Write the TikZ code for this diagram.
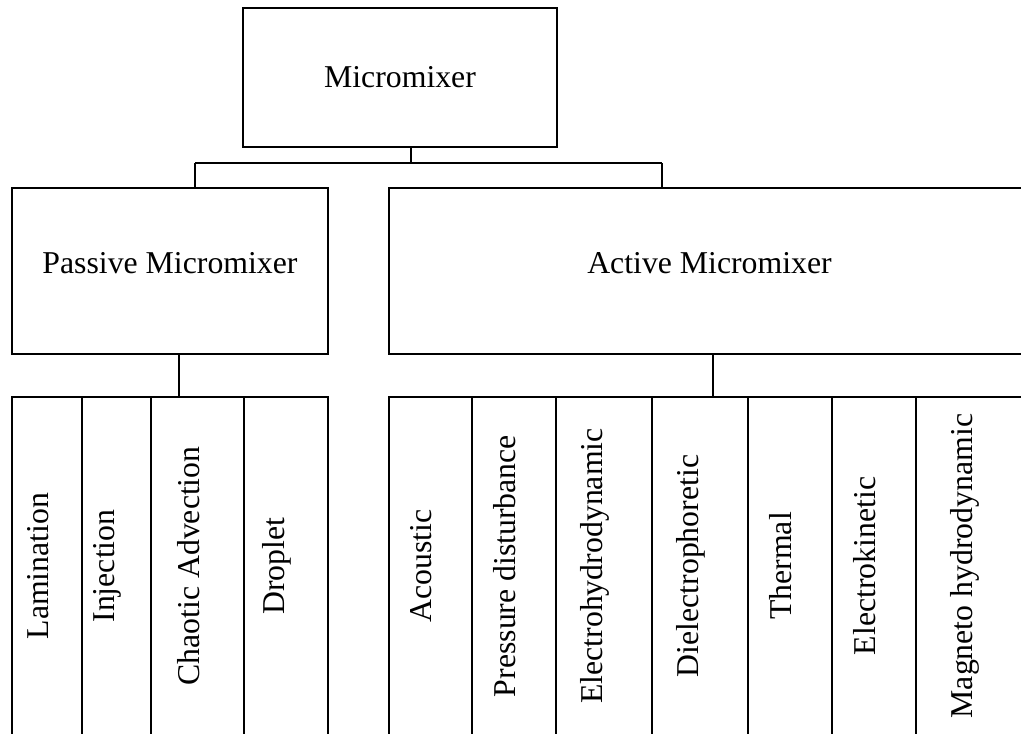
\documentclass[tikz,border=0pt]{standalone}
\usepackage{fontspec}
\setmainfont{Liberation Serif}
\tikzset{
  box/.style={draw=black, line width=1.4pt, font=\fontsize{22.6}{27}\selectfont},
  mid/.style={box, text depth=0.4cm, minimum height=4.15cm},
  cell/.style={draw=black, line width=1.4pt, minimum height=8.45cm},
  vlab/.style={rotate=90, font=\fontsize{22.6}{27}\selectfont},
  conn/.style={draw=black, line width=1.1pt},
}
\begin{document}
\begin{tikzpicture}[x=0.025cm, y=-0.025cm]
  \useasboundingbox (0,0) rectangle (1021,733);
  \fill[white] (0,0) rectangle (1021,733);
  \clip (0,0) rectangle (1021,733);

  \node[box, minimum width=7.85cm, minimum height=3.475cm] (mm) at (400,77.5) {Micromixer};
  \node[mid, minimum width=7.9cm] (pas) at (170,271) {Passive Micromixer};
  \node[mid, minimum width=16.025cm] (act) at (709.5,271) {Active Micromixer};

  \node[cell, minimum width=1.75cm] (lam) at (47,566) {};
  \node[cell, minimum width=1.725cm] (inj) at (116.5,566) {};
  \node[cell, minimum width=2.325cm] (cha) at (197.5,566) {};
  \node[cell, minimum width=2.1cm] (dro) at (286,566) {};
  \node[cell, minimum width=2.075cm] (aco) at (430.5,566) {};
  \node[cell, minimum width=2.1cm] (pre) at (514,566) {};
  \node[cell, minimum width=2.4cm] (ehd) at (604,566) {};
  \node[cell, minimum width=2.4cm] (dep) at (700,566) {};
  \node[cell, minimum width=2.1cm] (the) at (790,566) {};
  \node[cell, minimum width=2.1cm] (eki) at (874,566) {};
  \node[cell, minimum width=2.9cm] (mhd) at (974,566) {};

  \node[vlab] (lamt) at ([xshift=-0.225cm]lam.center) {Lamination};
  \node[vlab] (injt) at ([xshift=-0.225cm]inj.center) {Injection};
  \node[vlab] (chat) at ([xshift=-0.225cm]cha.center) {Chaotic Advection};
  \node[vlab] (drot) at ([xshift=-0.225cm]dro.center) {Droplet};
  \node[vlab] (acot) at ([xshift=-0.225cm]aco.center) {Acoustic};
  \node[vlab] (pret) at ([xshift=-0.225cm]pre.center) {Pressure disturbance};
  \node[vlab] (ehdt) at ([xshift=-0.225cm]ehd.center) {Electrohydrodynamic};
  \node[vlab] (dept) at ([xshift=-0.225cm]dep.center) {Dielectrophoretic};
  \node[vlab] (thet) at ([xshift=-0.225cm]the.center) {Thermal};
  \node[vlab] (ekit) at ([xshift=-0.225cm]eki.center) {Electrokinetic};
  \node[vlab] (mhdt) at ([xshift=-0.225cm]mhd.center) {Magneto hydrodynamic};

  \coordinate (tj) at (411,163);
  \coordinate (tl) at (195,163);
  \coordinate (tr) at (662,163);
  \coordinate (pj) at (179,400);
  \coordinate (aj) at (713,400);

  \draw[conn] (mm.south -| tj) -- (tj);
  \draw[conn] (tl) -- (tr);
  \draw[conn] (tl) -- (tl |- pas.north);
  \draw[conn] (tr) -- (tr |- act.north);
  \draw[conn] (pas.south -| pj) -- (pj |- cha.north);
  \draw[conn] (act.south -| aj) -- (aj |- dep.north);
\end{tikzpicture}
\end{document}
